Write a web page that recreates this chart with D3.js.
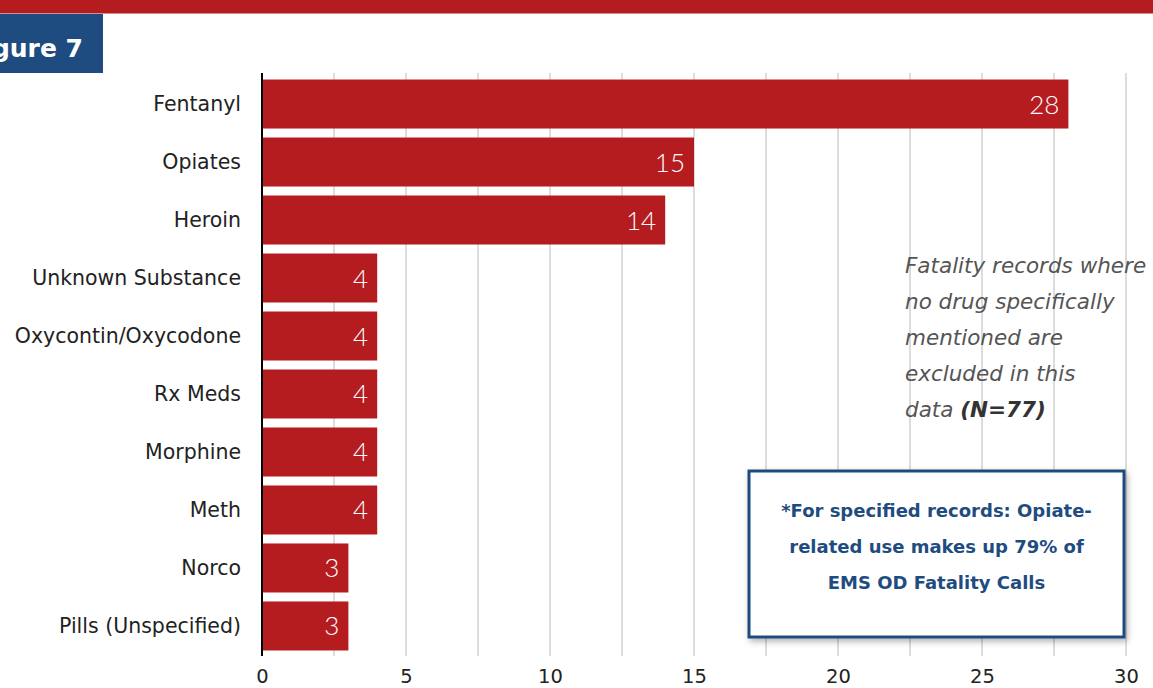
<!DOCTYPE html>
<html><head><meta charset="utf-8">
<script src="https://cdn.jsdelivr.net/npm/d3@7/dist/d3.min.js"></script>
<style>html,body{margin:0;padding:0;background:#fff;overflow:hidden}</style>
</head><body>
<svg id="chart" width="1153" height="688"></svg>
<script>
const categories = ["Fentanyl","Opiates","Heroin","Unknown Substance","Oxycontin/Oxycodone","Rx Meds","Morphine","Meth","Norco","Pills (Unspecified)"];
const values = [28,15,14,4,4,4,4,4,3,3];
const tickValues = [0,5,10,15,20,25,30];
const gridValues = [2.5,5,7.5,10,12.5,15,17.5,20,22.5,25,27.5,30];
const noteLines = ["Fatality records where","no drug specifically","mentioned are","excluded in this"];
const noteLast = ["data ","(N=77)"];
const boxLines = ["*For specified records: Opiate-","related use makes up 79% of","EMS OD Fatality Calls"];
const figureTitle = "Figure 7";

const RED = "#b51c1f", BLUE = "#1f4c80";
const svg = d3.select("#chart");
const defs = svg.append("defs");
const f = defs.append("filter").attr("id","sh").attr("x","-10%").attr("y","-10%").attr("width","130%").attr("height","130%");
f.append("feDropShadow").attr("dx",2).attr("dy",3).attr("stdDeviation",3).attr("flood-color","#000").attr("flood-opacity",0.3);

// header
svg.append("rect").attr("x",0).attr("y",0).attr("width",1153).attr("height",13.5).attr("fill",RED);
svg.append("rect").attr("x",0).attr("y",14).attr("width",103).attr("height",59).attr("fill",BLUE);
svg.append("text").attr("x",83).attr("y",57).attr("text-anchor","end")
  .attr("font-family","DejaVu Sans").attr("font-weight","bold").attr("font-size",25).attr("fill","#fff").text(figureTitle);

const x = d3.scaleLinear().domain([0,30]).range([262,1126]);
const y = d3.scaleBand().domain(categories).range([75,655]).paddingInner(0.155).paddingOuter(0.078);

// grid
svg.append("g").selectAll("line").data(gridValues).join("line")
  .attr("x1",d=>x(d)).attr("x2",d=>x(d)).attr("y1",73).attr("y2",656)
  .attr("stroke","#dcdcdc").attr("stroke-width",2);

// bars
svg.append("g").selectAll("rect").data(values).join("rect")
  .attr("x",x(0)).attr("y",(d,i)=>y(categories[i]))
  .attr("width",d=>x(d)-x(0)).attr("height",y.bandwidth()).attr("fill",RED);

// value labels
svg.append("g").selectAll("text").data(values).join("text")
  .attr("x",d=>x(d)-9).attr("y",(d,i)=>y(categories[i])+y.bandwidth()/2+9.5)
  .attr("text-anchor","end").attr("font-family","Lato").attr("font-weight",300)
  .attr("font-size",26).attr("fill","#fff").text(d=>d);

// axis line
svg.append("line").attr("x1",x(0)).attr("x2",x(0)).attr("y1",73).attr("y2",656).attr("stroke","#000").attr("stroke-width",2);

// y labels
const ya = svg.append("g").attr("transform",`translate(${x(0)},0)`)
  .call(d3.axisLeft(y).tickSize(0).tickPadding(21));
ya.select(".domain").remove();
ya.selectAll("text").attr("font-family","DejaVu Sans").attr("font-size",20.5).attr("fill","#222");

// x labels
const xa = svg.append("g").attr("transform","translate(0,656)")
  .call(d3.axisBottom(x).tickValues(tickValues).tickSize(0).tickPadding(13));
xa.select(".domain").remove();
xa.selectAll("text").attr("font-family","DejaVu Sans").attr("font-size",19.5).attr("fill","#222");

// note
const note = svg.append("g").attr("font-family","DejaVu Sans").attr("font-style","italic").attr("font-size",21.5).attr("fill","#555");
noteLines.forEach((t,i)=>note.append("text").attr("x",905).attr("y",273+i*36).text(t));
const last = note.append("text").attr("x",905).attr("y",273+4*36);
last.append("tspan").text(noteLast[0]);
last.append("tspan").attr("font-weight","bold").attr("fill","#333").text(noteLast[1]);

// box
svg.append("rect").attr("x",749).attr("y",471).attr("width",375).attr("height",166)
  .attr("fill","#fff").attr("stroke",BLUE).attr("stroke-width",3).attr("filter","url(#sh)");
const bt = svg.append("g").attr("font-family","DejaVu Sans").attr("font-weight","bold").attr("font-size",18).attr("fill",BLUE).attr("text-anchor","middle");
boxLines.forEach((t,i)=>bt.append("text").attr("x",936.5).attr("y",517+i*36).text(t));
</script>
</body></html>
